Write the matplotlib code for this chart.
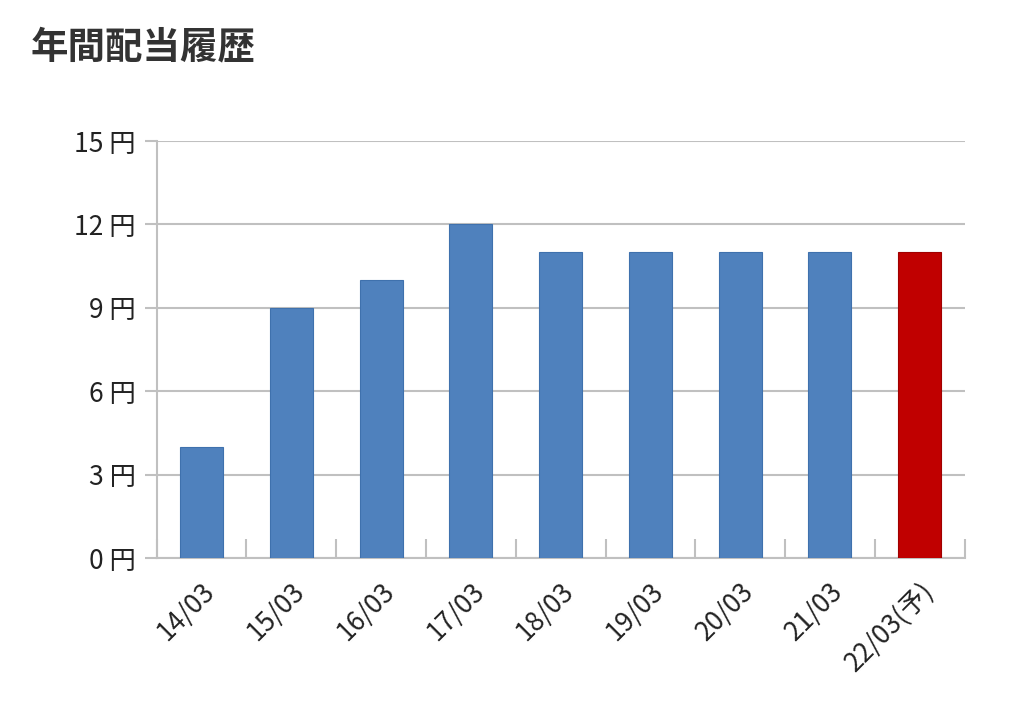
import matplotlib
matplotlib.use("Agg")
import matplotlib.pyplot as plt
import numpy as np

plt.rcParams['font.family'] = ['Noto Sans CJK JP', 'DejaVu Sans']

categories = ["14/03", "15/03", "16/03", "17/03", "18/03", "19/03", "20/03", "21/03", "22/03(予)"]
values = [4, 9, 10, 12, 11, 11, 11, 11, 11]
colors = ["#4f81bd"] * 8 + ["#c00000"]
yticks = [0, 3, 6, 9, 12, 15]

fig = plt.figure(figsize=(10.24, 7.28), dpi=100)
ax = fig.add_axes([0.153, 0.2335, 0.789, 0.5728])
x = np.arange(len(categories))
ax.bar(x, values, width=0.48, color=colors, edgecolor=["#3f71ad"] * 8 + ["#a00000"], linewidth=0.8, zorder=3)
ax.set_xlim(-0.5, len(categories) - 0.5)
ax.set_ylim(0, 15)
ax.set_yticks(yticks)
ax.set_yticklabels([f"{v} 円" for v in yticks], fontsize=19, color="#222222")
ax.yaxis.grid(True, color="#c0c0c0", linewidth=1.5, zorder=0)
for s in ["top", "right"]:
    ax.spines[s].set_visible(False)
for s in ["left", "bottom"]:
    ax.spines[s].set_color("#c0c0c0")
    ax.spines[s].set_linewidth(1.5)
ax.tick_params(axis="y", length=9, width=1.5, color="#c0c0c0", pad=6)
ax.set_xticks(x)
ax.set_xticklabels(categories, rotation=45, ha="right", rotation_mode="anchor", fontsize=19, color="#222222")
ax.tick_params(axis="x", length=0, pad=14)
ax.set_xticks(np.arange(len(categories) + 1) - 0.5, minor=True)
ax.tick_params(axis="x", which="minor", direction="in", length=14, width=1.5, color="#c0c0c0")

fig.text(0.03, 0.935, "年間配当履歴", fontsize=27, fontweight="bold", color="#333333", va="center")
fig.savefig("out.png", dpi=100, facecolor="white")
